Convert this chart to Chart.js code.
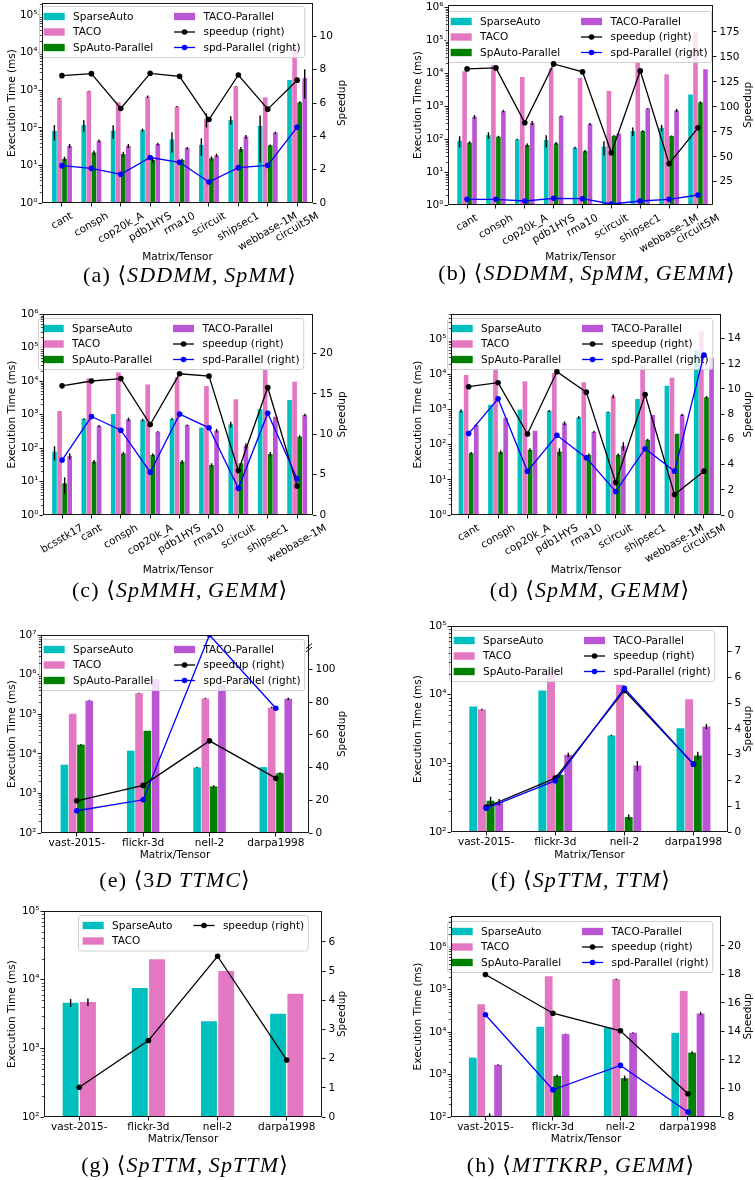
<!DOCTYPE html>
<html>
<head>
<meta charset="utf-8">
<script src="https://cdn.jsdelivr.net/npm/chart.js@4.4.1/dist/chart.umd.min.js"></script>
<style>
  html, body { margin: 0; padding: 0; background: #fff; width: 755px; height: 1180px; overflow: hidden; position: relative; }
  .cap { position: absolute; transform: translate(-50%, -50%); font-family: "Liberation Serif", "DejaVu Serif", serif; font-size: 22px; letter-spacing: 1.1px; white-space: nowrap; color: #000; }
  .cap i { font-style: italic; }
</style>
</head>
<body>
<script>
// ---- data ----
var catsA = ["cant", "consph", "cop20k_A", "pdb1HYS", "rma10", "scircuit", "shipsec1", "webbase-1M", "circuit5M"];
var catsC = ["bcsstk17", "cant", "consph", "cop20k_A", "pdb1HYS", "rma10", "scircuit", "shipsec1", "webbase-1M"];
var catsT = ["vast-2015-", "flickr-3d", "nell-2", "darpa1998"];

// (a) SDDMM, SpMM
var sparseA = [82, 118, 84, 87, 49, 35, 162, 112, 1870];
var tacoA = [610, 950, 475, 670, 365, 172, 1240, 645, 14000];
var spParA = [15, 22, 20, 14, 14, 15.4, 27, 34, 475];
var tacoParA = [33, 45, 33, 37, 29, 18.5, 58, 74, 2100];
var speedupA = [7.64, 7.76, 5.67, 7.78, 7.6, 5.01, 7.68, 5.63, 7.37];
var spdParA = [2.24, 2.08, 1.72, 2.73, 2.44, 1.26, 2.12, 2.26, 4.55];
var errSparseA = [36, 40, 33, 8, 27, 17, 40, 100, 0];
var errTacoA = [15, 20, 0, 50, 15, 70, 30, 0, 0];
var errSpParA = [2, 3, 3, 2, 1, 2, 4, 2, 30];
var errTacoParA = [4, 4, 4, 3, 2, 2, 6, 5, 1500];

// (b) SDDMM, SpMM, GEMM
var sparseB = [89, 132, 98, 93, 55, 59, 175, 220, 2250];
var tacoB = [11500, 17400, 7700, 13800, 7200, 2900, 22000, 9300, 170000];
var spParB = [78, 118, 66, 74, 43, 126, 175, 124, 1300];
var tacoParB = [475, 710, 310, 500, 285, 148, 850, 740, 13200];
var speedupB = [138, 139, 84, 143, 135, 54, 136, 43, 79];
var spdParB = [7.4, 7.4, 5.7, 8.4, 8, 2.7, 5.7, 7.4, 11.7];
var errSparseB = [33, 30, 4, 37, 4, 27, 50, 50, 0];
var errTacoB = [0, 0, 0, 0, 0, 0, 0, 0, 0];
var errSpParB = [8, 8, 8, 8, 4, 5, 10, 5, 100];
var errTacoParB = [65, 60, 45, 20, 20, 0, 30, 80, 0];

// (c) SpMMH, GEMM
var sparseC = [78, 740, 1030, 690, 740, 405, 510, 1450, 2700];
var tacoC = [1270, 12000, 17800, 7800, 12900, 7100, 2850, 22000, 9500];
var spParC = [8.8, 39, 69, 62, 39, 31, 35, 66, 218];
var tacoParC = [58, 455, 720, 307, 480, 330, 117, 860, 970];
var speedupC = [16.0, 16.6, 16.9, 11.2, 17.5, 17.2, 5.5, 15.8, 3.6];
var spdParC = [6.8, 12.2, 10.5, 5.3, 12.5, 10.8, 3.3, 12.6, 4.5];
var errSparseC = [35, 30, 0, 60, 40, 0, 100, 0, 0];
var errTacoC = [0, 0, 0, 0, 0, 0, 0, 0, 0];
var errSpParC = [4.5, 5, 8, 6, 5, 4, 0, 10, 20];
var errTacoParC = [12, 30, 90, 10, 20, 40, 20, 0, 80];

// (d) SpMM, GEMM
var sparseD = [910, 1350, 980, 910, 590, 840, 1960, 4700, 47000];
var tacoD = [9500, 14000, 6300, 10800, 5900, 2350, 17800, 7900, 165000];
var spParD = [57, 61, 71, 63, 51, 51, 136, 203, 2200];
var tacoParD = [365, 575, 245, 405, 230, 92, 690, 700, 29000];
var speedupD = [10.18, 10.5, 6.43, 11.37, 9.75, 2.58, 9.56, 1.62, 3.48];
var spdParD = [6.46, 9.22, 3.48, 6.32, 4.54, 1.86, 5.26, 3.48, 12.7];
var errSparseD = [100, 0, 0, 50, 50, 30, 0, 0, 0];
var errTacoD = [0, 0, 0, 0, 0, 300, 0, 0, 0];
var errSpParD = [5, 7, 7, 15, 5, 5, 10, 0, 200];
var errTacoParD = [20, 0, 0, 50, 15, 25, 0, 50, 0];

// (e) 3D TTMC
var sparseE = [5300, 12000, 4500, 4600];
var tacoE = [102000, 340000, 250000, 148000];
var spParE = [17000, 38000, 1500, 3250];
var tacoParE = [220000, 760000, 550000, 245000];
var speedupE = [19.7, 29.1, 56.3, 33.5];
var spdParE = [13.6, 20.3, 121, 76.2];
var errSparseE = [0, 0, 150, 0];
var errTacoE = [0, 8000, 8000, 6000];
var errSpParE = [800, 0, 100, 150];
var errTacoParE = [6000, 0, 0, 15000];

// (f) SpTTM, TTM
var sparseF = [6700, 11500, 2540, 3250];
var tacoF = [6100, 23500, 13900, 8600];
var spParF = [286, 682, 165, 1300];
var tacoParF = [273, 1330, 930, 3450];
var speedupF = [0.97, 2.09, 5.49, 2.64];
var spdParF = [0.92, 1.99, 5.57, 2.63];
var errSparseF = [0, 0, 60, 0];
var errTacoF = [150, 0, 0, 0];
var errSpParF = [40, 60, 15, 180];
var errTacoParF = [30, 100, 150, 300];

// (g) SpTTM, SpTTM
var sparseG = [4620, 7570, 2470, 3200];
var tacoG = [4730, 19800, 13400, 6250];
var speedupG = [1.02, 2.62, 5.51, 1.95];
var errSparseG = [600, 0, 0, 0];
var errTacoG = [600, 0, 0, 0];

// (h) MTTKRP, GEMM
var sparseH = [2500, 13300, 12900, 9600];
var tacoH = [45300, 205000, 174000, 93000];
var spParH = [107, 930, 820, 3280];
var tacoParH = [1690, 8930, 9600, 27400];
var speedupH = [18.0, 15.28, 14.05, 9.63];
var spdParH = [15.17, 9.91, 11.62, 8.35];
var errSparseH = [0, 0, 0, 0];
var errTacoH = [0, 0, 5000, 0];
var errSpParH = [15, 60, 120, 250];
var errTacoParH = [50, 200, 300, 2500];

// right axis ticks
var y2TicksA = [0, 2, 4, 6, 8, 10];
var y2TicksB = [25, 50, 75, 100, 125, 150, 175];
var y2TicksC = [0, 5, 10, 15, 20];
var y2TicksD = [0, 2, 4, 6, 8, 10, 12, 14];
var y2TicksE = [0, 20, 40, 60, 80, 100];
var y2TicksF = [0, 1, 2, 3, 4, 5, 6, 7];
var y2TicksG = [0, 1, 2, 3, 4, 5, 6];
var y2TicksH = [8, 10, 12, 14, 16, 18, 20];

// ---- styling ----
var FS = 10.5;
var FONT = '"DejaVu Sans", sans-serif';
var C_SPARSE = "#00bfbf", C_TACO = "#e377c2", C_SPPAR = "#008000", C_TACOPAR = "#ba55d3";
var C_SPEED = "#000000", C_SPD = "#0000ff";

Chart.defaults.font.family = FONT;
Chart.defaults.font.size = FS;
Chart.defaults.color = "#000";

function fourBars(s, t, sp, tp, es, et, esp, etp) {
  return [
    ["SparseAuto", s, es, C_SPARSE],
    ["TACO", t, et, C_TACO],
    ["SpAuto-Parallel", sp, esp, C_SPPAR],
    ["TACO-Parallel", tp, etp, C_TACOPAR],
  ];
}
function twoLines(a, b) {
  return [["speedup (right)", a, C_SPEED], ["spd-Parallel (right)", b, C_SPD]];
}

var panels = [
  { key: "a", cats: catsA, bars: fourBars(sparseA, tacoA, spParA, tacoParA, errSparseA, errTacoA, errSpParA, errTacoParA),
    lines: twoLines(speedupA, spdParA), rect: [42, 3, 313, 203], y: [1, 2.08e5], y2: [0, 12], y2Ticks: y2TicksA,
    x: [-0.68, 8.54], cat: 0.69, rot: true, offL: 30, offR: 29, offX: 55, leg: [-3, 3], brk: false,
    cap: [190, 275], capHtml: "(a) ⟨<i>SDDMM</i>,&thinsp;<i>SpMM</i>⟩" },
  { key: "b", cats: catsA, bars: fourBars(sparseB, tacoB, spParB, tacoParB, errSparseB, errTacoB, errSpParB, errTacoParB),
    lines: twoLines(speedupB, spdParB), rect: [448, 5, 713, 205], y: [1, 1.17e6], y2: [1.7, 202], y2Ticks: y2TicksB,
    x: [-0.66, 8.52], cat: 0.69, rot: true, offL: 30, offR: 35, offX: 53, leg: [-2, 6], brk: false,
    cap: [587, 273], capHtml: "(b) ⟨<i>SDDMM</i>,&thinsp;<i>SpMM</i>,&thinsp;<i>GEMM</i>⟩" },
  { key: "c", cats: catsC, bars: fourBars(sparseC, tacoC, spParC, tacoParC, errSparseC, errTacoC, errSpParC, errTacoParC),
    lines: twoLines(speedupC, spdParC), rect: [43, 314, 313, 515], y: [1, 1e6], y2: [0, 24.9], y2Ticks: y2TicksC,
    x: [-0.65, 8.54], cat: 0.69, rot: true, offL: 31, offR: 29, offX: 56, leg: [-5, 4], brk: false,
    cap: [180, 590], capHtml: "(c) ⟨<i>SpMMH</i>,&thinsp;<i>GEMM</i>⟩" },
  { key: "d", cats: catsA, bars: fourBars(sparseD, tacoD, spParD, tacoParD, errSparseD, errTacoD, errSpParD, errTacoParD),
    lines: twoLines(speedupD, spdParD), rect: [451, 314, 721, 515], y: [1, 5.1e5], y2: [0, 15.95], y2Ticks: y2TicksD,
    x: [-0.6, 8.58], cat: 0.69, rot: true, offL: 33, offR: 27, offX: 56, leg: [-4, 4], brk: false,
    cap: [590, 590], capHtml: "(d) ⟨<i>SpMM</i>,&thinsp;<i>GEMM</i>⟩" },
  { key: "e", cats: catsT, bars: fourBars(sparseE, tacoE, spParE, tacoParE, errSparseE, errTacoE, errSpParE, errTacoParE),
    lines: twoLines(speedupE, spdParE), rect: [41, 635, 309, 833], y: [100, 1e7], y2: [0, 121], y2Ticks: y2TicksE,
    x: [-0.54, 3.5], cat: 0.5, rot: false, offL: 29, offR: 33, offX: 23, leg: [-2, 4], brk: true,
    cap: [175, 880], capHtml: "(e) ⟨3<i>D TTMC</i>⟩" },
  { key: "f", cats: catsT, bars: fourBars(sparseF, tacoF, spParF, tacoParF, errSparseF, errTacoF, errSpParF, errTacoParF),
    lines: twoLines(speedupF, spdParF), rect: [451, 626, 728, 832], y: [100, 1e5], y2: [0, 7.99], y2Ticks: y2TicksF,
    x: [-0.51, 3.5], cat: 0.5, rot: false, offL: 33, offR: 20, offX: 24, leg: [-2, 4], brk: false,
    cap: [581, 880], capHtml: "(f) ⟨<i>SpTTM</i>,&thinsp;<i>TTM</i>⟩" },
  { key: "g", cats: catsT, bars: [["SparseAuto", sparseG, errSparseG, C_SPARSE], ["TACO", tacoG, errTacoG, C_TACO]],
    lines: [["speedup (right)", speedupG, C_SPEED]], rect: [44, 911, 322, 1117], y: [100, 1e5], y2: [0, 7.06], y2Ticks: y2TicksG,
    x: [-0.51, 3.51], cat: 0.5, rot: false, offL: 32, offR: 20, offX: 23, leg: [34, 4], brk: false,
    cap: [185, 1165], capHtml: "(g) ⟨<i>SpTTM</i>,&thinsp;<i>SpTTM</i>⟩" },
  { key: "h", cats: catsT, bars: fourBars(sparseH, tacoH, spParH, tacoParH, errSparseH, errTacoH, errSpParH, errTacoParH),
    lines: twoLines(speedupH, spdParH), rect: [451, 916, 721, 1117], y: [100, 5.4e6], y2: [8, 22.1], y2Ticks: y2TicksH,
    x: [-0.51, 3.49], cat: 0.5, rot: false, offL: 33, offR: 27, offX: 23, leg: [-4, 5], brk: false,
    cap: [581, 1165], capHtml: "(h) ⟨<i>MTTKRP</i>,&thinsp;<i>GEMM</i>⟩" },
];

function supExp(v) {
  var digits = "⁰¹²³⁴⁵⁶⁷⁸⁹";
  var e = Math.round(Math.log10(v));
  return "10" + String(e).split("").map(function (c) { return digits[+c]; }).join("");
}

function drawLegend(chart, p) {
  var ctx = chart.ctx, a = chart.chartArea;
  var items = [];
  p.bars.forEach(function (b) { items.push({ label: b[0], kind: "bar", color: b[3] }); });
  p.lines.forEach(function (l) { items.push({ label: l[0], kind: "line", color: l[2] }); });
  var nrow = Math.ceil(items.length / 2);
  var cols = [items.slice(0, nrow), items.slice(nrow)];
  var hl = 2 * FS, htp = 0.8 * FS, cs = 2 * FS, pad = 0.4 * FS, rowH = 11.6, rowSp = 15.5;
  ctx.save();
  ctx.font = FS + "px " + FONT;
  var colW = cols.map(function (c) {
    return hl + htp + Math.max.apply(null, c.map(function (it) { return ctx.measureText(it.label).width; }));
  });
  var w = pad * 2 + colW[0] + cs + colW[1];
  var h = pad * 2 + rowH + (nrow - 1) * rowSp;
  var x0 = Math.round(a.left + p.leg[0]) + 0.5, y0 = Math.round(a.top + p.leg[1]) + 0.5;
  ctx.beginPath();
  ctx.roundRect(x0, y0, w, h, 2.5);
  ctx.fillStyle = "rgba(255,255,255,0.8)";
  ctx.fill();
  ctx.strokeStyle = "#d0d0d0";
  ctx.lineWidth = 1;
  ctx.stroke();
  var cx = x0 + pad;
  cols.forEach(function (col, ci) {
    col.forEach(function (it, ri) {
      var cy = y0 + pad + rowH / 2 + ri * rowSp;
      if (it.kind === "bar") {
        ctx.fillStyle = it.color;
        ctx.fillRect(cx, cy - 0.35 * FS, hl, 0.7 * FS);
      } else {
        ctx.strokeStyle = it.color;
        ctx.lineWidth = 1.3;
        ctx.beginPath();
        ctx.moveTo(cx, cy);
        ctx.lineTo(cx + hl, cy);
        ctx.stroke();
        ctx.fillStyle = it.color;
        ctx.beginPath();
        ctx.arc(cx + hl / 2, cy, 2.8, 0, Math.PI * 2);
        ctx.fill();
      }
      ctx.fillStyle = "#000";
      ctx.textBaseline = "middle";
      ctx.textAlign = "left";
      ctx.fillText(it.label, cx + hl + htp, cy + 0.5);
    });
    cx += colW[ci] + cs;
  });
  ctx.restore();
}

function panelPlugin(p) {
  return {
    id: "panelExtras_" + p.key,
    beforeDraw: function (chart) { chart.$legendDone = false; },
    afterDatasetDraw: function (chart, args) {
      var ds = chart.data.datasets[args.index];
      if (!ds.errs) return;
      var ctx = chart.ctx, a = chart.chartArea, ys = chart.scales.y;
      ctx.save();
      ctx.beginPath();
      ctx.rect(a.left, a.top, a.right - a.left, a.bottom - a.top);
      ctx.clip();
      ctx.strokeStyle = "#000";
      ctx.lineWidth = 1.4;
      args.meta.data.forEach(function (el, i) {
        var e = ds.errs[i];
        if (!e) return;
        var v = ds.data[i].y;
        var yHi = ys.getPixelForValue(v + e);
        var yLo = v - e > ys.min ? ys.getPixelForValue(v - e) : a.bottom;
        ctx.beginPath();
        ctx.moveTo(el.x, yLo);
        ctx.lineTo(el.x, yHi);
        ctx.stroke();
      });
      ctx.restore();
    },
    beforeDatasetDraw: function (chart, args) {
      var ds = chart.data.datasets[args.index];
      if (ds.type === "line" && !chart.$legendDone) {
        drawLegend(chart, p);
        chart.$legendDone = true;
      }
    },
    afterDraw: function (chart) {
      var ctx = chart.ctx, a = chart.chartArea, xs = chart.scales.x, ys = chart.scales.y;
      ctx.save();
      // frame
      ctx.strokeStyle = "#000";
      ctx.lineWidth = 0.9;
      ctx.strokeRect(a.left + 0.5, a.top + 0.5, a.right - a.left - 1, a.bottom - a.top - 1);
      // minor log ticks
      ctx.lineWidth = 0.7;
      var k0 = Math.floor(Math.log10(ys.min)), k1 = Math.ceil(Math.log10(ys.max));
      for (var k = k0; k <= k1; k++) {
        for (var m = 2; m <= 9; m++) {
          var v = m * Math.pow(10, k);
          if (v <= ys.min || v >= ys.max) continue;
          var y = Math.round(ys.getPixelForValue(v)) + 0.5;
          ctx.beginPath();
          ctx.moveTo(a.left - 2.2, y);
          ctx.lineTo(a.left, y);
          ctx.stroke();
        }
      }
      // x tick labels
      ctx.fillStyle = "#000";
      ctx.font = FS + "px " + FONT;
      p.cats.forEach(function (c, i) {
        var x = xs.getPixelForValue(i);
        if (p.rot) {
          var ang = Math.PI / 6;
          var tw = ctx.measureText(c).width, th = FS * 1.15;
          var H = tw * Math.sin(ang) + th * Math.cos(ang);
          ctx.save();
          ctx.translate(x, a.bottom + 7 + H / 2);
          ctx.rotate(-ang);
          ctx.textAlign = "center";
          ctx.textBaseline = "middle";
          ctx.fillText(c, 0, 0);
          ctx.restore();
        } else {
          ctx.textAlign = "center";
          ctx.textBaseline = "top";
          ctx.fillText(c, x, a.bottom + 5);
        }
      });
      // right axis title
      ctx.save();
      ctx.translate(a.right + p.offR, (a.top + a.bottom) / 2);
      ctx.rotate(-Math.PI / 2);
      ctx.textAlign = "center";
      ctx.textBaseline = "middle";
      ctx.fillText("Speedup", 0, 0);
      ctx.restore();
      // axis break mark (only panel e)
      if (p.brk === true) {
        ctx.lineWidth = 1;
        for (var j = 0; j < 2; j++) {
          var yb = a.top + 11 + j * 3.5;
          ctx.beginPath();
          ctx.moveTo(a.right - 3, yb + 2.5);
          ctx.lineTo(a.right + 3, yb - 2.5);
          ctx.stroke();
        }
      }
      ctx.restore();
    },
  };
}

function buildPanel(p) {
  var L = p.rect[0], T = p.rect[1], R = p.rect[2], B = p.rect[3];
  var WL = Math.round(p.offL + 6), WR = p.offR + 8, HX = p.offX + 6, PT = 10;
  var w = (R - L) + WL + WR, h = (B - T) + PT + HX;
  var cv = document.createElement("canvas");
  cv.width = w;
  cv.height = h;
  cv.style.cssText = "position:absolute;left:" + (L - WL) + "px;top:" + (T - PT) + "px;width:" + w + "px;height:" + h + "px";
  document.body.appendChild(cv);

  var cap = document.createElement("div");
  cap.className = "cap";
  cap.style.left = p.cap[0] + "px";
  cap.style.top = p.cap[1] + "px";
  cap.innerHTML = p.capHtml;
  document.body.appendChild(cap);

  var datasets = [];
  p.lines.forEach(function (l, k) {
    datasets.push({
      type: "line",
      label: l[0],
      data: l[1].map(function (v, i) { return { x: i, y: v }; }),
      borderColor: l[2],
      backgroundColor: l[2],
      pointBackgroundColor: l[2],
      pointBorderWidth: 0,
      pointRadius: 2.8,
      pointHoverRadius: 0,
      borderWidth: 1.3,
      tension: 0,
      yAxisID: "y2",
      order: p.lines.length - 1 - k,
    });
  });
  p.bars.forEach(function (b) {
    datasets.push({
      type: "bar",
      label: b[0],
      data: b[1].map(function (v, i) { return { x: i, y: v }; }),
      errs: b[2],
      backgroundColor: b[3],
      borderWidth: 0,
      categoryPercentage: p.cat,
      barPercentage: 0.92,
      yAxisID: "y",
      order: 5,
    });
  });

  var tickGrid = { display: true, drawOnChartArea: false, drawTicks: true, tickLength: 3.5, color: "#000", lineWidth: 0.9, offset: false };

  new Chart(cv, {
    type: "bar",
    data: { datasets: datasets },
    options: {
      responsive: false,
      animation: false,
      events: [],
      layout: { autoPadding: false, padding: { top: PT, left: 0, right: 0, bottom: 0 } },
      plugins: { legend: { display: false }, tooltip: { enabled: false } },
      scales: {
        x: {
          type: "linear",
          offset: false,
          min: p.x[0],
          max: p.x[1],
          afterBuildTicks: function (s) { s.ticks = p.cats.map(function (_, i) { return { value: i }; }); },
          ticks: { display: false },
          grid: tickGrid,
          border: { display: false },
          title: { display: true, text: "Matrix/Tensor", padding: 0, font: { size: FS } },
          afterFit: function (s) { s.height = HX; },
        },
        y: {
          type: "logarithmic",
          position: "left",
          min: p.y[0],
          max: p.y[1],
          afterBuildTicks: function (s) {
            var t = [];
            for (var e = Math.ceil(Math.log10(p.y[0]) - 1e-9); Math.pow(10, e) <= p.y[1] * 1.0001; e++) t.push({ value: Math.pow(10, e) });
            s.ticks = t;
          },
          ticks: { callback: function (v) { return supExp(v); }, padding: 1, autoSkip: false, font: { size: FS } },
          grid: tickGrid,
          border: { display: false },
          title: { display: true, text: "Execution Time (ms)", padding: 0, font: { size: FS } },
          afterFit: function (s) { s.width = WL; },
        },
        y2: {
          type: "linear",
          position: "right",
          min: p.y2[0],
          max: p.y2[1],
          afterBuildTicks: function (s) { s.ticks = p.y2Ticks.map(function (v) { return { value: v }; }); },
          ticks: { callback: function (v) { return String(v); }, padding: 3, autoSkip: false, font: { size: FS } },
          grid: tickGrid,
          border: { display: false },
          afterFit: function (s) { s.width = WR; },
        },
      },
    },
    plugins: [panelPlugin(p)],
  });
}

panels.forEach(buildPanel);
</script>
</body>
</html>
